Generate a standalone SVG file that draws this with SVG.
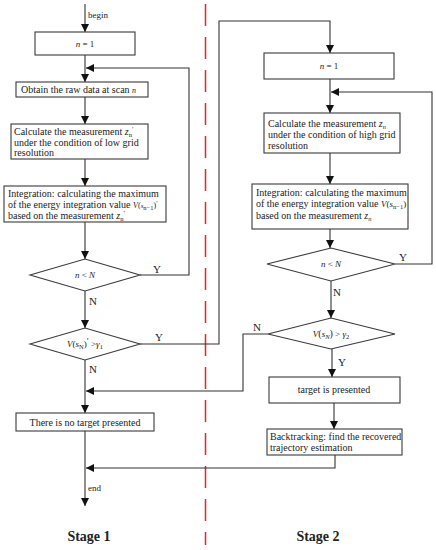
<svg xmlns="http://www.w3.org/2000/svg" width="436" height="550" viewBox="0 0 436 550">
<style>
.box{fill:#fff;stroke:#3a3a3a;stroke-width:1.1}
.ln{fill:none;stroke:#333;stroke-width:1.1}
.t{font-family:"Liberation Serif","Times New Roman",serif;font-size:10px;fill:#222}
.s{font-family:"Liberation Serif","Times New Roman",serif;font-size:9px;fill:#222}
.lb{font-family:"Liberation Serif","Times New Roman",serif;font-size:11px;fill:#222}
.i{font-style:italic}
.sub{font-size:6.5px}
.st{font-family:"Liberation Serif","Times New Roman",serif;font-size:14px;font-weight:bold;fill:#222}
</style>
<defs>
<marker id="ar" markerWidth="8" markerHeight="10" viewBox="0 0 8 10" refX="8" refY="5" orient="auto" markerUnits="userSpaceOnUse">
<path d="M0,1 L8,5 L0,9 Z" fill="#111"/>
</marker>
</defs>

<line x1="205.5" y1="4" x2="205.5" y2="545" stroke="#e4242c" stroke-width="1.5" stroke-dasharray="22 11"/>

<g id="connectors">
<path class="ln" d="M85,4 V32" marker-end="url(#ar)"/>
<path class="ln" d="M85,55 V82" marker-end="url(#ar)"/>
<path class="ln" d="M140,275 H189 V68 H86" marker-end="url(#ar)"/>
<path class="ln" d="M85,97 V124" marker-end="url(#ar)"/>
<path class="ln" d="M85,159 V186" marker-end="url(#ar)"/>
<path class="ln" d="M85,222 V259" marker-end="url(#ar)"/>
<path class="ln" d="M85,291 V328" marker-end="url(#ar)"/>
<path class="ln" d="M140,344 H219 V21 H330 V53" marker-end="url(#ar)"/>
<path class="ln" d="M85,360 V413" marker-end="url(#ar)"/>
<path class="ln" d="M85,431 V506" marker-end="url(#ar)"/>
<path class="ln" d="M330,79 V113" marker-end="url(#ar)"/>
<path class="ln" d="M395,264 H432 V92 H331" marker-end="url(#ar)"/>
<path class="ln" d="M330,153 V184" marker-end="url(#ar)"/>
<path class="ln" d="M330,229 V248" marker-end="url(#ar)"/>
<path class="ln" d="M331,281 V318" marker-end="url(#ar)"/>
<path class="ln" d="M268,334 H243 V391 H86" marker-end="url(#ar)"/>
<path class="ln" d="M332,349 V377" marker-end="url(#ar)"/>
<path class="ln" d="M334,403 V429" marker-end="url(#ar)"/>
<path class="ln" d="M335,455 V468 H86" marker-end="url(#ar)"/>
<text class="s" x="88" y="18">begin</text>
<text class="s" x="88" y="491">end</text>
<text class="lb" x="153" y="273">Y</text>
<text class="lb" x="89" y="305">N</text>
<text class="lb" x="155" y="341">Y</text>
<text class="lb" x="89" y="373">N</text>
<text class="lb" x="399" y="261">Y</text>
<text class="lb" x="333" y="296">N</text>
<text class="lb" x="253" y="331">N</text>
<text class="lb" x="338" y="366">Y</text>
</g>

<g id="s1_init">
<rect class="box" x="35" y="32" width="100" height="23"/>
<text class="s" x="85" y="47" text-anchor="middle"><tspan class="i">n</tspan> = 1</text>
</g>
<g id="s1_obtain">
<rect class="box" x="16" y="82" width="132" height="15"/>
<text class="t" x="21" y="93">Obtain the raw data at scan  <tspan class="i" font-size="8">n</tspan></text>
</g>
<g id="s1_calc">
<rect class="box" x="11" y="124" width="137" height="35"/>
<text class="t" x="14" y="135">Calculate the measurement   <tspan class="i">z</tspan><tspan class="sub" dy="2">n</tspan><tspan dy="-6" font-size="7">′</tspan></text>
<text class="t" x="14" y="146">under the condition of low  grid</text>
<text class="t" x="14" y="156">resolution</text>
</g>
<g id="s1_integ">
<rect class="box" x="4" y="186" width="162" height="36"/>
<text class="t" x="8" y="197">Integration: calculating the maximum</text>
<text class="t" x="8" y="208">of the energy integration value <tspan class="i" font-size="8">V</tspan><tspan font-size="8">(</tspan><tspan class="i" font-size="7">s</tspan><tspan class="sub" font-size="5" dy="1.5">n−1</tspan><tspan font-size="8" dy="-1.5">)</tspan><tspan font-size="7" dy="-3">′</tspan></text>
<text class="t" x="8" y="219">based on the measurement <tspan class="i">z</tspan><tspan class="sub" dy="2">n</tspan><tspan dy="-6" font-size="7">′</tspan></text>
</g>
<g id="s1_cond1">
<polygon class="box" points="30,275 85,259 140,275 85,291"/>
<text class="s" x="85" y="278" text-anchor="middle"><tspan class="i">n</tspan> &lt; <tspan class="i">N</tspan></text>
</g>
<g id="s1_cond2">
<polygon class="box" points="30,344 85,328 140,344 85,360"/>
<text class="s" x="85" y="347" text-anchor="middle"><tspan class="i">V</tspan>(<tspan class="i">s</tspan><tspan class="sub" dy="1.5">N</tspan><tspan dy="-1.5">)</tspan><tspan dy="-3">′</tspan><tspan dy="3"> &gt;</tspan><tspan class="i">γ</tspan><tspan class="sub" dy="1.5">1</tspan></text>
</g>
<g id="s1_notarget">
<rect class="box" x="16" y="413" width="138" height="18"/>
<text class="t" x="85" y="425.5" text-anchor="middle">There is no target presented</text>
</g>
<text class="st" x="89" y="541" text-anchor="middle">Stage 1</text>

<g id="s2_init">
<rect class="box" x="264" y="53" width="130" height="26"/>
<text class="s" x="329" y="69" text-anchor="middle"><tspan class="i">n</tspan> = 1</text>
</g>
<g id="s2_calc">
<rect class="box" x="264" y="113" width="136" height="40"/>
<text class="t" x="268" y="127">Calculate the measurement  <tspan class="i">z</tspan><tspan class="sub i" dy="2">n</tspan></text>
<text class="t" x="268" y="138">under the condition of high grid</text>
<text class="t" x="268" y="149">resolution</text>
</g>
<g id="s2_integ">
<rect class="box" x="252" y="184" width="156" height="45"/>
<text class="t" x="256" y="196">Integration: calculating the maximum</text>
<text class="t" x="256" y="207">of the energy integration value <tspan class="i" font-size="9">V</tspan><tspan font-size="9">(</tspan><tspan class="i" font-size="9">s</tspan><tspan class="sub" font-size="5.5" dy="1.5">n−1</tspan><tspan font-size="9" dy="-1.5">)</tspan></text>
<text class="t" x="256" y="219">based on the measurement  <tspan class="i">z</tspan><tspan class="sub i" dy="2">n</tspan></text>
</g>
<g id="s2_cond1">
<polygon class="box" points="267,264 331,248 395,264 331,281"/>
<text class="s" x="331" y="267" text-anchor="middle"><tspan class="i">n</tspan> &lt; <tspan class="i">N</tspan></text>
</g>
<g id="s2_cond2">
<polygon class="box" points="268,334 331,318 395,334 331,349"/>
<text class="s" x="331" y="337" text-anchor="middle"><tspan class="i">V</tspan><tspan font-size="10">(</tspan><tspan class="i">s</tspan><tspan class="sub i" dy="1.5">N</tspan><tspan dy="-1.5" font-size="10">)</tspan> &gt; <tspan class="i">γ</tspan><tspan class="sub" dy="1.5">2</tspan></text>
</g>
<g id="s2_target">
<rect class="box" x="269" y="377" width="131" height="26"/>
<text class="t" x="334" y="393" text-anchor="middle">target is presented</text>
</g>
<g id="s2_back">
<rect class="box" x="267" y="429" width="135" height="26"/>
<text class="t" x="270" y="440">Backtracking: find the recovered</text>
<text class="t" x="270" y="451">trajectory estimation</text>
</g>
<text class="st" x="318" y="541" text-anchor="middle">Stage 2</text>
</svg>
